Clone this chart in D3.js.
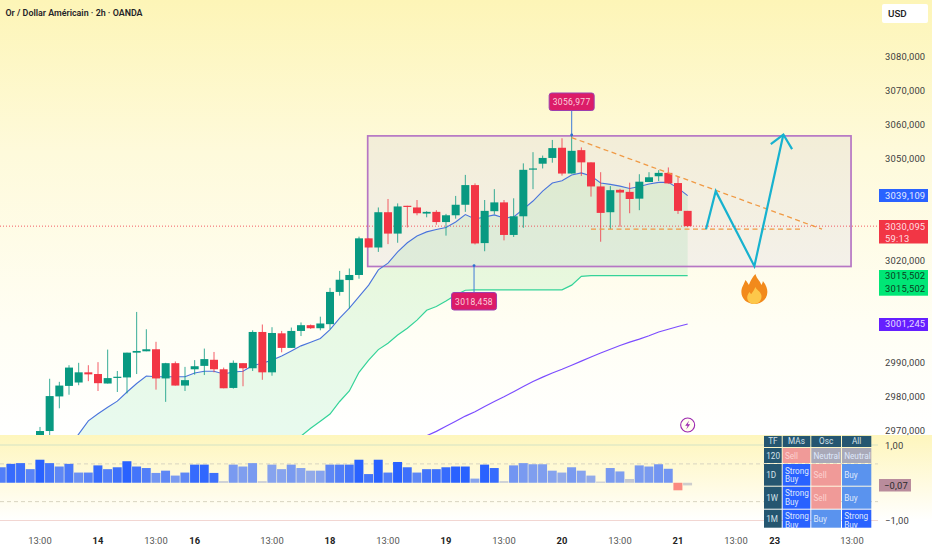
<!DOCTYPE html>
<html>
<head>
<meta charset="utf-8">
<script src="https://cdnjs.cloudflare.com/ajax/libs/d3/7.8.5/d3.min.js"></script>
<style>
  html, body { margin: 0; padding: 0; background: #fff; overflow: hidden; }
  svg { display: block; }
  text { font-family: Roboto, sans-serif; }
</style>
</head>
<body>
<svg id="svg1" width="932" height="550"></svg>
<script>
var title = 'Or / Dollar Américain · 2h · OANDA';

// candles, gold 2h, index 0 is the first 13:00 on the axis
var opens = [2967.6,2969.7,2979.9,2983.0,2984.0,2987.0,2986.5,2983.7,2985.4,2985.5,2992.8,2993.2,2993.8,2985.2,2989.7,2983.1,2987.9,2988.9,2990.7,2987.9,2982.4,2989.7,2988.2,2998.9,2987.0,2998.5,2994.2,2999.2,3000.9,3000.0,3001.2,3010.7,3014.2,3015.7,3026.5,3023.8,3034.2,3027.9,3036.1,3035.6,3033.8,3034.3,3031.3,3033.3,3036.4,3042.2,3025.1,3034.5,3037.1,3027.5,3033.0,3046.8,3048.5,3050.2,3053.2,3045.6,3052.5,3048.9,3041.8,3034.2,3040.8,3040.2,3038.2,3043.1,3044.8,3045.8,3042.8,3034.6];
var highs = [2970.9,2985.1,2984.2,2989.1,2989.8,2989.1,2990.0,2993.7,2987.4,2992.8,3004.8,2999.7,2996.0,2989.8,2990.2,2988.6,2990.6,2994.0,2993.0,2988.4,2990.5,2989.7,2999.4,3001.1,3000.3,2999.2,3000.2,3001.7,3001.1,3003.4,3011.9,3016.9,3017.6,3027.0,3026.5,3035.6,3038.1,3036.8,3036.1,3037.8,3034.5,3034.8,3033.7,3039.0,3045.2,3042.7,3037.8,3041.0,3037.8,3038.3,3048.6,3051.9,3050.9,3055.5,3056.0,3057.0,3053.3,3048.9,3046.0,3041.9,3041.1,3042.9,3045.4,3046.0,3046.6,3047.4,3044.7,3034.6];
var lows = [2967.0,2968.2,2976.4,2980.4,2983.2,2984.4,2981.5,2983.7,2981.2,2980.8,2986.5,2993.2,2981.9,2978.3,2983.1,2981.5,2986.3,2986.2,2987.0,2982.3,2982.2,2982.9,2987.4,2984.8,2986.0,2992.9,2994.2,2997.7,2999.8,2999.4,2999.7,3009.6,3005.8,3014.6,3023.8,3022.5,3024.8,3025.2,3029.7,3033.3,3032.7,3030.5,3027.3,3032.3,3034.3,3024.7,3022.7,3033.6,3025.9,3026.9,3029.6,3041.0,3047.1,3048.8,3045.0,3045.6,3044.9,3038.8,3025.5,3029.2,3029.9,3033.9,3034.8,3043.1,3043.4,3042.6,3033.7,3029.8];
var closes = [2969.7,2980.0,2983.1,2988.4,2987.0,2986.4,2983.8,2985.3,2985.7,2992.8,2993.3,2993.8,2985.2,2989.7,2983.1,2984.7,2988.8,2990.9,2987.9,2982.3,2989.8,2988.2,2998.9,2987.0,2998.6,2994.2,2999.2,3000.9,3000.0,3001.4,3010.7,3014.3,3015.7,3026.5,3023.8,3034.2,3027.9,3035.9,3035.9,3033.9,3034.3,3031.3,3033.3,3036.4,3042.2,3025.0,3034.6,3037.1,3027.5,3033.0,3046.7,3047.1,3050.2,3053.1,3045.6,3052.3,3048.9,3041.8,3034.0,3040.7,3040.0,3038.1,3043.2,3044.5,3045.8,3042.7,3034.6,3030.095];

// moving averages, they all end on the last candle
var emaFast = [2964.9,2968.8,2972.7,2974.8,2976.7,2978.5,2981.2,2983.7,2985.9,2985.7,2985.7,2985.7,2985.7,2986.8,2987.3,2987.3,2986.5,2987.1,2987.3,2989.0,2989.7,2990.6,2991.8,2993.3,2994.8,2995.9,2997.0,2999.6,3003.0,3005.9,3009.3,3012.7,3017.2,3019.2,3022.5,3025.2,3027.2,3028.4,3029.1,3029.7,3031.3,3033.5,3032.2,3032.8,3033.4,3032.5,3032.8,3035.1,3037.5,3040.4,3042.8,3043.5,3045.2,3045.8,3044.9,3042.8,3042.4,3041.9,3041.2,3041.8,3042.5,3043.0,3043.0,3041.3,3039.109];
var emaMid = [2968.2,2970.5,2972.6,2974.7,2978.4,2981.5,2987.0,2990.6,2993.7,2995.6,2998.0,3000.0,3002.4,3005.3,3006.4,3008.0,3009.8,3011.2,3011.3,3011.3,3011.3,3011.3,3011.3,3011.3,3011.3,3011.3,3011.3,3011.3,3012.7,3015.3,3015.502,3015.502,3015.502,3015.502,3015.502,3015.502,3015.502,3015.502,3015.502,3015.502,3015.502];
var emaSlow = [2968.3,2969.6,2971.1,2972.6,2974.1,2975.4,2976.9,2978.4,2979.8,2981.3,2982.8,2984.3,2985.6,2986.8,2987.9,2989.1,2990.3,2991.5,2992.7,2993.8,2994.9,2995.9,2996.8,2997.8,2998.9,2999.7,3000.5,3001.245];

// oscillator, starts 4 bars before index 0
var oscStart = -4;
var oscValues = [.41,.50,.52,.36,.61,.52,.43,.50,.27,.27,.46,.36,.41,.57,.43,.39,.26,.32,.19,.27,.48,.48,.26,.04,.48,.43,.52,.04,.48,.36,.48,.39,.32,.32,.48,.48,.48,.61,.23,.61,.27,.55,.41,.27,.36,.36,.41,.43,.43,.11,.48,.39,.04,.46,.52,.49,.49,.32,.27,.41,.32,.19,.03,.39,.30,.10,.46,.43,.49,.37,-.20,-.07];
var oscStrength = [.7,.9,.85,.65,1,.8,.6,.75,.5,.65,.9,.7,.85,1,.8,.7,.45,.6,.4,.6,.9,.95,.85,.05,.4,.35,.4,.05,.3,.3,.4,.3,.25,.3,.6,.7,.8,1,.8,1,.7,1,.85,.6,.8,.85,.9,1,1,.3,1,.9,.05,.45,.4,.35,.35,.3,.25,.4,.3,.25,.05,.4,.35,.05,.4,.4,.45,.45,0,0];

// 3040, 3030, 3010 and 3000 sit behind the price tags in the picture
var priceTicks = [3080,3070,3060,3050,3020,2990,2980,2970];
var oscTicks = [1,-1];
var timeTicks = [[0,'13:00'],[6,'14'],[12,'13:00'],[16,'16'],[24,'13:00'],[30,'18'],[36,'13:00'],[42,'19'],[48,'13:00'],[54,'20'],[60,'13:00'],[66,'21'],[72,'13:00'],[76,'23'],[84,'13:00']];

// drawings on the chart, in bars and prices
var boxBars = [33.9,83.9], boxPrices = [3056.7,3018.2];
var trendBars = [55,80.9], trendPrices = [3056.2,3029.2];
var flatBars = [57,78.9], flatPrice = 3029.2;
var pathBars = [68.9,69.9,73.9,76.9], pathPrices = [3029.2,3040.4,3018.3,3057.1];
var headBars = [75.6,76.9,77.8], headPrices = [3054.3,3057.1,3052.8];
var lastPrice = 3030.095, highMark = 3056.977, lowMark = 3018.458;

var tableHeader = ['TF','MAs','Osc','All'];
var tableRows = [
  ['120','Sell','Neutral','Neutral'],
  ['1D','Strong Buy','Sell','Buy'],
  ['1W','Strong Buy','Sell','Buy'],
  ['1M','Strong Buy','Buy','Strong Buy']
];
var tableColors = {'Sell':'#f09a98','Neutral':'#a9a9b8','Buy':'#5a93ee','Strong Buy':'#2962ff'};

var svg = d3.select('#svg1');
var defs = svg.append('defs');

// scales
var x = d3.scaleLinear().domain([0,84]).range([40,852]);
var y = d3.scaleLinear().domain([2970,3060]).range([430,124.7]);
var yOsc = d3.scaleLinear().domain([-1,1]).range([520.5,445]);
var fmt = function(v){ return d3.format('.3f')(v).replace('.',','); };
var fmt2 = function(v){ return d3.format('.2f')(v).replace('.',',').replace('-','−'); };
var oscColor = d3.scaleLinear().domain([0,.3,1]).range(['#cdcdcd','#86a3ee','#2962ff']);

// backgrounds
var bg = defs.append('linearGradient').attr('id','bg').attr('x1',0).attr('x2',0).attr('y1',0).attr('y2',1);
bg.append('stop').attr('offset','0').attr('stop-color','#fdf5b7');
bg.append('stop').attr('offset','.35').attr('stop-color','#fefadb');
bg.append('stop').attr('offset','.75').attr('stop-color','#fffef4');
bg.append('stop').attr('offset','1').attr('stop-color','#ffffff');
var bg2 = defs.append('linearGradient').attr('id','bg2').attr('x1',0).attr('x2',0).attr('y1',0).attr('y2',1);
bg2.append('stop').attr('offset','0').attr('stop-color','#fef6bd');
bg2.append('stop').attr('offset','.6').attr('stop-color','#fffbe3');
bg2.append('stop').attr('offset','1').attr('stop-color','#ffffff');

svg.append('rect').attr('width',932).attr('height',436).attr('fill','url(#bg)');
svg.append('rect').attr('y',435).attr('width',932).attr('height',86).attr('fill','url(#bg2)');
svg.append('rect').attr('y',521).attr('width',932).attr('height',29).attr('fill','#fff');

defs.append('clipPath').attr('id','pane').append('rect').attr('width',879).attr('height',435);
var pane = svg.append('g').attr('clip-path','url(#pane)');

// the start index of a series that ends on the last candle
function offset(a){ return opens.length - a.length; }

// cloud between the fast and the mid average
var cloud = d3.area()
  .x(function(d){ return x(d.i); })
  .y0(function(d){ return d.low == null ? 450 : y(d.low); })
  .y1(function(d){ return y(d.high); });
var cloudData = emaFast.map(function(v,k){
  var i = k + offset(emaFast), m = i - offset(emaMid);
  return {i:i, high:v, low: m >= 0 ? emaMid[m] : null};
});
pane.append('path').attr('d',cloud(cloudData)).attr('fill','#00c853').attr('opacity',.09);

// box
pane.append('rect')
  .attr('x',x(boxBars[0])).attr('y',y(boxPrices[0]))
  .attr('width',x(boxBars[1])-x(boxBars[0])).attr('height',y(boxPrices[1])-y(boxPrices[0]))
  .attr('fill','#9088d8').attr('fill-opacity',.1)
  .attr('stroke','#b676c4').attr('stroke-width',1.7);

// last price line
pane.append('line').attr('x1',0).attr('x2',879).attr('y1',y(lastPrice)).attr('y2',y(lastPrice))
  .attr('stroke','#f23645').attr('stroke-width',1).attr('stroke-dasharray','1 2').attr('opacity',.8);

// moving averages
function drawAvg(a,color,w){
  var off = offset(a);
  var line = d3.line().x(function(d,k){ return x(k+off); }).y(function(d){ return y(d); });
  pane.append('path').attr('d',line(a)).attr('fill','none').attr('stroke',color).attr('stroke-width',w);
}
drawAvg(emaMid,'#34d399',1.2);
drawAvg(emaSlow,'#7c4dff',1.2);
drawAvg(emaFast,'#4a74dc',1.1);

// candles
var candleData = opens.map(function(o,i){ return {i:i,o:o,h:highs[i],l:lows[i],c:closes[i]}; });
var candleColor = function(d){ return d.c >= d.o ? '#089981' : '#f23645'; };
pane.selectAll('.wick').data(candleData).enter().append('line')
  .attr('class','wick')
  .attr('x1',function(d){ return x(d.i); }).attr('x2',function(d){ return x(d.i); })
  .attr('y1',function(d){ return y(d.h); }).attr('y2',function(d){ return y(d.l); })
  .attr('stroke',candleColor).attr('stroke-width',1).attr('opacity',.8);
pane.selectAll('.body').data(candleData).enter().append('rect')
  .attr('class','body')
  .attr('x',function(d){ return x(d.i)-4; }).attr('width',8)
  .attr('y',function(d){ return y(Math.max(d.o,d.c)); })
  .attr('height',function(d){ return Math.max(1.2,Math.abs(y(d.o)-y(d.c))); })
  .attr('fill',candleColor);

// trend lines
var lineFn = d3.line().x(function(d){ return x(d[0]); }).y(function(d){ return y(d[1]); });
pane.append('path').attr('d',lineFn(d3.zip(trendBars,trendPrices))).attr('fill','none')
  .attr('stroke','#f09a45').attr('stroke-width',1.3).attr('stroke-dasharray','5 3.5');
pane.append('path').attr('d',lineFn(d3.zip(flatBars,[flatPrice,flatPrice]))).attr('fill','none')
  .attr('stroke','#f09a45').attr('stroke-width',1.3).attr('stroke-dasharray','5 3.5');

// projected path
pane.append('path').attr('d',lineFn(d3.zip(pathBars,pathPrices))).attr('fill','none')
  .attr('stroke','#17b2cf').attr('stroke-width',2.2).attr('stroke-linejoin','miter');
pane.append('path').attr('d',lineFn(d3.zip(headBars,headPrices))).attr('fill','none')
  .attr('stroke','#17b2cf').attr('stroke-width',2.2);

// high and low callouts
function callout(bar,price,boxY,label){
  var cx = x(bar), py = y(price);
  pane.append('line').attr('x1',cx).attr('x2',cx).attr('y1',py).attr('y2',boxY + (boxY > py ? 0 : 18))
    .attr('stroke','#4f86d8').attr('stroke-width',1.1);
  pane.append('circle').attr('cx',cx).attr('cy',py).attr('r',1.4).attr('fill','#2f6fd0');
  pane.append('rect').attr('x',cx-22.5).attr('y',boxY).attr('width',45).attr('height',17.5).attr('rx',2.5)
    .attr('fill','#dc1c68').attr('stroke','#9c3fb0').attr('stroke-width',1);
  pane.append('text').attr('x',cx).attr('y',boxY+12).attr('text-anchor','middle')
    .attr('font-size',8.5).attr('letter-spacing',.35).attr('fill','#fbd0dc').text(label);
}
callout(55,highMark,93,fmt(highMark));
callout(44.9,lowMark,292.5,fmt(lowMark));

// flame
var flame = svg.append('g').attr('transform','translate('+x(73.9)+',290)');
flame.append('path').attr('fill','#f28a1c')
  .attr('d','M1,-16 C3,-10 6,-9 7,-5 C8,-7 8.5,-8 8.5,-9 C12,-5 13,-1 13,2 C13,9 7,14 0,14 C-7,14 -13,9 -13,2 C-13,-3 -10,-6 -9,-10 C-7,-8 -6,-6 -5.5,-5 C-4,-9 -2,-13 1,-16 Z');
flame.append('path').attr('fill','#fdc74a')
  .attr('d','M1,-3 C2,0 6,1 7,5 C8,10 4,14 0,14 C-5,14 -8,10 -7,6 C-6.5,4 -5.5,3 -5,2 C-4,3 -3.5,4 -3,4 C-2,2 0,0 1,-3 Z');

// lightning marker
var bolt = svg.append('g').attr('transform','translate('+x(67)+',425)');
bolt.append('circle').attr('r',7).attr('fill','#fffdf0').attr('stroke','#9c27b0').attr('stroke-width',1.1);
bolt.append('path').attr('d','M1.5,-4.5 L-2.5,0.7 L0,0.7 L-1.5,4.5 L2.5,-0.7 L0,-0.7 Z').attr('fill','#9c27b0');

// oscillator pane
var levels = [[1,'#d3e3c4','none'],[.5,'#d8d4c0','4 3'],[-.5,'#d8d4c0','4 3'],[-1,'#f2d6d2','none']];
svg.selectAll('.level').data(levels).enter().append('line')
  .attr('class','level').attr('x1',0).attr('x2',878)
  .attr('y1',function(d){ return yOsc(d[0]); }).attr('y2',function(d){ return yOsc(d[0]); })
  .attr('stroke',function(d){ return d[1]; }).attr('stroke-dasharray',function(d){ return d[2]; });
svg.selectAll('.osc').data(oscValues).enter().append('rect')
  .attr('class','osc')
  .attr('x',function(d,k){ return x(k+oscStart)-4.6; }).attr('width',9)
  .attr('y',function(d){ return Math.min(yOsc(d),yOsc(0)); })
  .attr('height',function(d){ return Math.abs(yOsc(d)-yOsc(0)); })
  .attr('fill',function(d,k){
    if (d < -.1) return '#fb8a80';
    return oscColor(oscStrength[k]);
  });

// table
var tableCols = [764,782.7,811.3,842,872.3];
var tableY = [435.7,448,464,486.7,509.7,528.7];
var tableW = 1;
var table = svg.append('g');
defs.append('clipPath').attr('id','tableClip').append('rect').attr('x',764).attr('y',435.7).attr('width',108.3).attr('height',93);
table.attr('clip-path','url(#tableClip)');
function cell(col,row,fill,label,color){
  var left = tableCols[col], top = tableY[row];
  var w = tableCols[col+1]-left-tableW, h = tableY[row+1]-top-tableW;
  table.append('rect').attr('x',left).attr('y',top).attr('width',w).attr('height',h).attr('fill',fill);
  var words = label === 'Strong Buy' ? ['Strong','Buy'] : [label];
  words.forEach(function(t,k){
    table.append('text').attr('x',left+2.2)
      .attr('y',top + (words.length == 2 ? 9.5 + k*8.5 : h/2+3))
      .attr('font-size',8.2).attr('fill',color).text(t);
  });
}
tableHeader.forEach(function(t,c){
  var left = tableCols[c], w = tableCols[c+1]-left-tableW;
  table.append('rect').attr('x',left).attr('y',tableY[0]).attr('width',w).attr('height',tableY[1]-tableY[0]-tableW).attr('fill','#255670');
  table.append('text').attr('x',left+w/2).attr('y',tableY[0]+8.6).attr('text-anchor','middle')
    .attr('font-size',8.2).attr('fill','#d5e2ea').text(t);
});
tableRows.forEach(function(r,ri){
  cell(0,ri+1,'#255670',r[0],'#d5e2ea');
  for (var c = 1; c < 4; c++) {
    cell(c,ri+1,tableColors[r[c]],r[c],r[c] == 'Sell' ? '#fcd2d0' : '#dfe8fb');
  }
});

// axes
var axisFont = 9.4, axisSpacing = .2;
var axisPrice = d3.axisRight(y).tickValues(priceTicks).tickSize(0).tickPadding(0).tickFormat(fmt);
var gPrice = svg.append('g').attr('transform','translate(885,0)').call(axisPrice);
gPrice.select('.domain').remove();
gPrice.selectAll('text').attr('font-size',axisFont).attr('letter-spacing',axisSpacing).attr('fill','#3d3d3d').attr('font-family','Roboto, sans-serif');

var axisOsc = d3.axisRight(yOsc).tickValues(oscTicks).tickSize(0).tickPadding(0).tickFormat(fmt2);
var gOsc = svg.append('g').attr('transform','translate(885,0)').call(axisOsc);
gOsc.select('.domain').remove();
gOsc.selectAll('text').attr('font-size',axisFont).attr('letter-spacing',axisSpacing).attr('fill','#3d3d3d').attr('font-family','Roboto, sans-serif');

svg.selectAll('.timeLabel').data(timeTicks).enter().append('text')
  .attr('class','timeLabel')
  .attr('x',function(d){ return x(d[0]); }).attr('y',543.5).attr('text-anchor','middle')
  .attr('font-size',9.4)
  .attr('font-weight',function(d){ return d[1].length == 2 ? 700 : 400; })
  .attr('fill',function(d){ return d[1].length == 2 ? '#222' : '#555'; })
  .text(function(d){ return d[1]; });

// price tags
function tag(price,top,h,fill,color,lines){
  svg.append('rect').attr('x',879).attr('y',top).attr('width',49).attr('height',h).attr('fill',fill);
  lines.forEach(function(t,k){
    svg.append('text').attr('x',885).attr('y',y(price)+3.4+k*12.8)
      .attr('font-size',axisFont).attr('letter-spacing',axisSpacing).attr('fill',color).text(t);
  });
}
tag(emaFast[emaFast.length-1],189,13,'#2962ff','#e3ebff',[fmt(emaFast[emaFast.length-1])]);
tag(lastPrice,220,23.5,'#f23645','#ffdfe2',[fmt(lastPrice),'59:13']);
tag(emaMid[emaMid.length-1],270,25.7,'#00e676','#0b3d22',[fmt(emaMid[emaMid.length-1]),fmt(emaMid[emaMid.length-1])]);
tag(emaSlow[emaSlow.length-1],318,13,'#651fff','#e6dcff',[fmt(emaSlow[emaSlow.length-1])]);

// oscillator tag
var lastOsc = oscValues[oscValues.length-1];
svg.append('rect').attr('x',879).attr('y',479).attr('width',32).attr('height',12.5).attr('fill','#b98c9c');
svg.append('text').attr('x',884).attr('y',488.6).attr('font-size',axisFont).attr('letter-spacing',axisSpacing).attr('fill','#2b2b2b').text(fmt2(lastOsc));

// currency button
svg.append('rect').attr('x',882).attr('y',4).attr('width',46).attr('height',19).attr('rx',2).attr('fill','#fff');
svg.append('text').attr('x',888).attr('y',17).attr('font-size',9.8).attr('font-weight',500).attr('fill','#222').text('USD');

// title
svg.append('text').attr('x',5.5).attr('y',15.7).attr('font-size',8.9).attr('font-weight',600)
  .attr('font-family','"Noto Sans", sans-serif').attr('fill','#1f2328').text(title);
</script>
</body>
</html>
